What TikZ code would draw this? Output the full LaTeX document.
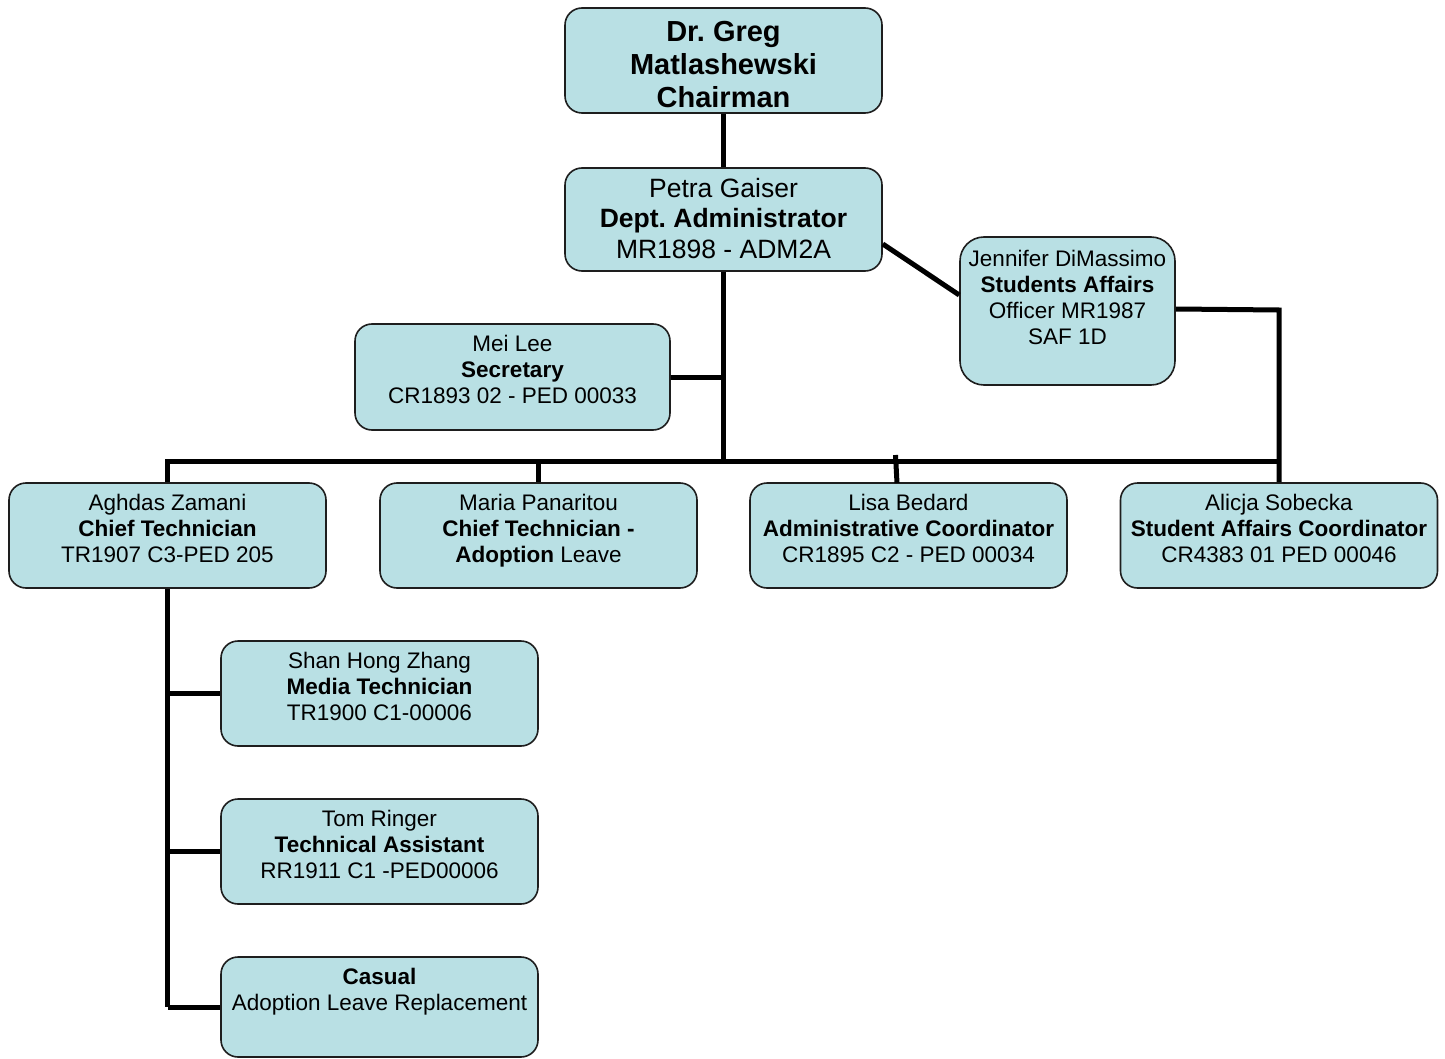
\documentclass[tikz,border=0pt]{standalone}
\usepackage{fontspec}
\setmainfont{Liberation Sans}
\frenchspacing
\definecolor{boxfill}{RGB}{185,224,228}
\definecolor{boxline}{RGB}{30,30,30}
\begin{document}
\begin{tikzpicture}[x=1pt,y=-1pt,
  orgbox/.style={draw=boxline, line width=1.6pt, fill=boxfill, rounded corners=17pt, inner sep=0pt},
  smallbox/.style={orgbox, minimum width=317pt, minimum height=105pt},
  txt/.style={align=center, inner sep=0pt, anchor=north, font=\fontsize{22.5}{26}\selectfont},
  conn/.style={line width=5pt, line join=miter, black}]
\useasboundingbox (0,0) rectangle (1445,1059);

% boxes
\node[orgbox, minimum width=317pt, minimum height=105pt] (chair) at (723.5,60.5) {};
\node[orgbox, minimum width=317pt, minimum height=103pt] (petra) at (723.5,219.5) {};
\node[orgbox, minimum width=215pt, minimum height=148pt, rounded corners=24pt] (jen) at (1067.5,311) {};
\node[orgbox, minimum width=315pt, minimum height=106pt] (mei) at (512.5,377) {};
\node[smallbox] (agh) at (167.5,535.5) {};
\node[smallbox] (maria) at (538.5,535.5) {};
\node[smallbox] (lisa) at (908.5,535.5) {};
\node[smallbox] (alicja) at (1279,535.5) {};
\node[smallbox] (shan) at (379.5,693.5) {};
\node[smallbox] (tom) at (379.5,851.5) {};
\node[orgbox, minimum width=317pt, minimum height=100pt] (casual) at (379.5,1007) {};

% texts
\node[txt, font=\fontsize{29}{33}\selectfont\bfseries] (chairT) at ([yshift=-13.5pt]chair.north) {Dr.\ Greg\\Matlashewski\\Chairman};
\node[txt, font=\fontsize{26.5}{30.5}\selectfont] (petraT) at ([yshift=-10.5pt]petra.north) {Petra Gaiser\\\textbf{Dept.\ Administrator}\\MR1898 - ADM2A};
\node[txt] (jenT) at ([yshift=-14pt]jen.north) {Jennifer DiMassimo\\\textbf{Students Affairs}\\Officer MR1987\\SAF 1D};
\node[txt] (meiT) at ([yshift=-12pt]mei.north) {Mei Lee\\\textbf{Secretary}\\CR1893 02 - PED 00033};
\node[txt] (aghT) at ([yshift=-12pt]agh.north) {Aghdas Zamani\\\textbf{Chief Technician}\\TR1907 C3-PED 205};
\node[txt] (mariaT) at ([yshift=-12pt]maria.north) {Maria Panaritou\\\textbf{Chief Technician -}\\\textbf{Adoption} Leave};
\node[txt] (lisaT) at ([yshift=-12pt]lisa.north) {Lisa Bedard\\\textbf{Administrative Coordinator}\\CR1895 C2 - PED 00034};
\node[txt] (alicjaT) at ([yshift=-12pt]alicja.north) {Alicja Sobecka\\\textbf{Student Affairs Coordinator}\\CR4383 01 PED 00046};
\node[txt] (shanT) at ([yshift=-12pt]shan.north) {Shan Hong Zhang\\\textbf{Media Technician}\\TR1900 C1-00006};
\node[txt] (tomT) at ([yshift=-12pt]tom.north) {Tom Ringer\\\textbf{Technical Assistant}\\RR1911 C1 -PED00006};
\node[txt] (casualT) at ([yshift=-12pt]casual.north) {\textbf{Casual}\\Adoption Leave Replacement};

% connector points
\coordinate (busL) at (167.5,461);
\coordinate (busR) at (1279,461);
\coordinate (busMid) at (723.5,461);
\coordinate (meiJ) at (723.5,377);
\coordinate (lisaTop) at (895.5,455);
\coordinate (jenCorner) at (1279,310);
\coordinate (trunkEnd) at (167.5,1007);

% connectors
\draw[conn] (chair.south) -- (petra.north);
\draw[conn] (petra.south) -- (busMid);
\draw[conn] (mei.east) -- (meiJ);
\draw[conn] ([yshift=-24.5pt]petra.east) -- ([yshift=16pt]jen.west);
\draw[conn] ([yshift=2pt]jen.east) -- (jenCorner) -- (alicja.north);
\draw[conn] (agh.north) -- (busL) -- (busR);
\draw[conn] (maria.north) -- (538.5,461);
\draw[conn] (lisaTop) -- (897,483);
\draw[conn] (agh.south) -- (trunkEnd);
\draw[conn] (167.5,693.5) -- (shan.west);
\draw[conn] (167.5,851.5) -- (tom.west);
\draw[conn] (trunkEnd) -- (casual.west);
\end{tikzpicture}
\end{document}
